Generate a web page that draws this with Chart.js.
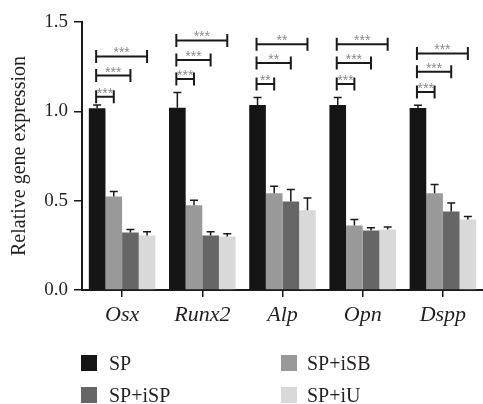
<!DOCTYPE html>
<html>
<head>
<meta charset="utf-8">
<script src="https://cdn.jsdelivr.net/npm/chart.js@4"></script>
<style>
  html, body { margin: 0; padding: 0; background: #fff; }
  #wrap { position: relative; width: 483px; height: 404px; overflow: hidden; }
  canvas { position: absolute; left: 0; top: 0; }
  .lg { position: absolute; font-family: "Liberation Serif", serif; font-size: 20px; color: #231f20; line-height: 16px; white-space: nowrap; }
  .sw { position: absolute; width: 16px; height: 16px; }
</style>
</head>
<body>
<div id="wrap">
  <canvas id="c" width="483" height="404"></canvas>
</div>
<script>
// ---- data ----
const categories = ['Osx', 'Runx2', 'Alp', 'Opn', 'Dspp'];
const seriesNames = ['SP', 'SP+iSB', 'SP+iSP', 'SP+iU'];
const spValues   = [1.017, 1.020, 1.035, 1.035, 1.018];
const spErr      = [0.018, 0.085, 0.042, 0.042, 0.016];
const isbValues  = [0.524, 0.474, 0.541, 0.361, 0.541];
const isbErr     = [0.028, 0.028, 0.039, 0.034, 0.049];
const ispValues  = [0.322, 0.305, 0.496, 0.333, 0.440];
const ispErr     = [0.017, 0.021, 0.066, 0.015, 0.047];
const iuValues   = [0.305, 0.300, 0.446, 0.339, 0.395];
const iuErr      = [0.021, 0.015, 0.069, 0.013, 0.017];
const yTicks     = [0.0, 0.5, 1.0, 1.5];
// significance brackets: SP vs (iSB, iSP, iU) per category
const sigHeights = [
  [1.082, 1.200, 1.307],
  [1.181, 1.288, 1.397],
  [1.153, 1.270, 1.376],
  [1.153, 1.270, 1.376],
  [1.108, 1.222, 1.324]
];
const sigLabels = [
  ['***', '***', '***'],
  ['***', '***', '***'],
  ['**', '**', '**'],
  ['***', '***', '***'],
  ['***', '***', '***']
];

const colors = ['#151515', '#999999', '#666666', '#d9d9d9'];
const values = [spValues, isbValues, ispValues, iuValues];
const errors = [spErr, isbErr, ispErr, iuErr];
const SERIF = '"Liberation Serif", "Times New Roman", serif';

const errorBarPlugin = {
  id: 'errorBars',
  afterDatasetsDraw(chart) {
    const ctx = chart.ctx;
    const y = chart.scales.y;
    ctx.save();
    ctx.strokeStyle = '#1a1a1a';
    ctx.lineWidth = 1.5;
    chart.data.datasets.forEach((ds, di) => {
      const meta = chart.getDatasetMeta(di);
      meta.data.forEach((bar, i) => {
        const top = y.getPixelForValue(ds.data[i]);
        const e = y.getPixelForValue(ds.data[i] + errors[di][i]);
        ctx.beginPath();
        ctx.moveTo(bar.x, top);
        ctx.lineTo(bar.x, e);
        ctx.moveTo(bar.x - 4, e);
        ctx.lineTo(bar.x + 4, e);
        ctx.stroke();
      });
    });
    ctx.restore();
  }
};

const bracketPlugin = {
  id: 'brackets',
  afterDatasetsDraw(chart) {
    const ctx = chart.ctx;
    const y = chart.scales.y;
    const m0 = chart.getDatasetMeta(0);
    ctx.save();
    categories.forEach((cat, i) => {
      for (let k = 1; k <= 3; k++) {
        const mk = chart.getDatasetMeta(k);
        const x1 = m0.data[i].x - 1;
        const x2 = mk.data[i].x;
        const yy = y.getPixelForValue(sigHeights[i][k - 1]);
        ctx.strokeStyle = '#1a1a1a';
        ctx.lineWidth = 2;
        ctx.beginPath();
        ctx.moveTo(x1, yy);
        ctx.lineTo(x2, yy);
        ctx.moveTo(x1, yy - 6.5);
        ctx.lineTo(x1, yy + 6.5);
        ctx.moveTo(x2, yy - 6.5);
        ctx.lineTo(x2, yy + 6.5);
        ctx.stroke();
        ctx.fillStyle = '#8a8a8a';
        ctx.font = '14px "Liberation Sans", Arial, sans-serif';
        ctx.textAlign = 'center';
        ctx.textBaseline = 'alphabetic';
        ctx.fillText(sigLabels[i][k - 1], (x1 + x2) / 2, yy + 1);
      }
    });
    ctx.restore();
  }
};

new Chart(document.getElementById('c'), {
  type: 'bar',
  data: {
    labels: categories,
    datasets: seriesNames.map((n, i) => ({
      label: n,
      data: values[i],
      backgroundColor: colors[i],
      borderWidth: 0,
      categoryPercentage: 0.83,
      barPercentage: 1.0
    }))
  },
  options: {
    responsive: false,
    animation: false,
    layout: { padding: { top: 22, right: 0, bottom: 74, left: 0 } },
    plugins: { legend: { display: false }, tooltip: { enabled: false } },
    scales: {
      x: {
        grid: { display: true, drawOnChartArea: false, offset: false, tickLength: 7, color: '#1a1a1a', lineWidth: 1.5 },
        border: { display: true, color: '#1a1a1a', width: 2 },
        ticks: { font: { family: SERIF, size: 22, style: 'italic' }, color: '#231f20', padding: 5, maxRotation: 0 },
        afterFit(s) { s.height = 40; }
      },
      y: {
        min: 0, max: 1.5,
        afterBuildTicks(s) { s.ticks = yTicks.map(v => ({ value: v })); },
        grid: { display: true, drawOnChartArea: false, tickLength: 8, color: '#1a1a1a', lineWidth: 1.5 },
        border: { display: true, color: '#1a1a1a', width: 2 },
        ticks: { font: { family: SERIF, size: 19 }, color: '#231f20', padding: 6, callback: v => Number(v).toFixed(1) },
        title: { display: true, text: 'Relative gene expression', font: { family: SERIF, size: 20 }, color: '#231f20', padding: { top: 8, bottom: 0 } },
        afterFit(s) { s.width = 82; }
      }
    }
  },
  plugins: [errorBarPlugin, bracketPlugin]
});

// legend (HTML text) built from series names/colors
const legendPos = [
  { sx: 81, tx: 109, y: 355 },
  { sx: 281, tx: 307, y: 355 },
  { sx: 81, tx: 109, y: 387 },
  { sx: 281, tx: 307, y: 387 }
];
const order = [0, 1, 2, 3];
const wrap = document.getElementById('wrap');
order.forEach((si, p) => {
  const pos = legendPos[p];
  const sw = document.createElement('div');
  sw.className = 'sw';
  sw.style.left = pos.sx + 'px';
  sw.style.top = pos.y + 'px';
  sw.style.background = colors[si];
  wrap.appendChild(sw);
  const t = document.createElement('div');
  t.className = 'lg';
  t.style.left = pos.tx + 'px';
  t.style.top = pos.y + 'px';
  t.textContent = seriesNames[si];
  wrap.appendChild(t);
});
</script>
</body>
</html>
